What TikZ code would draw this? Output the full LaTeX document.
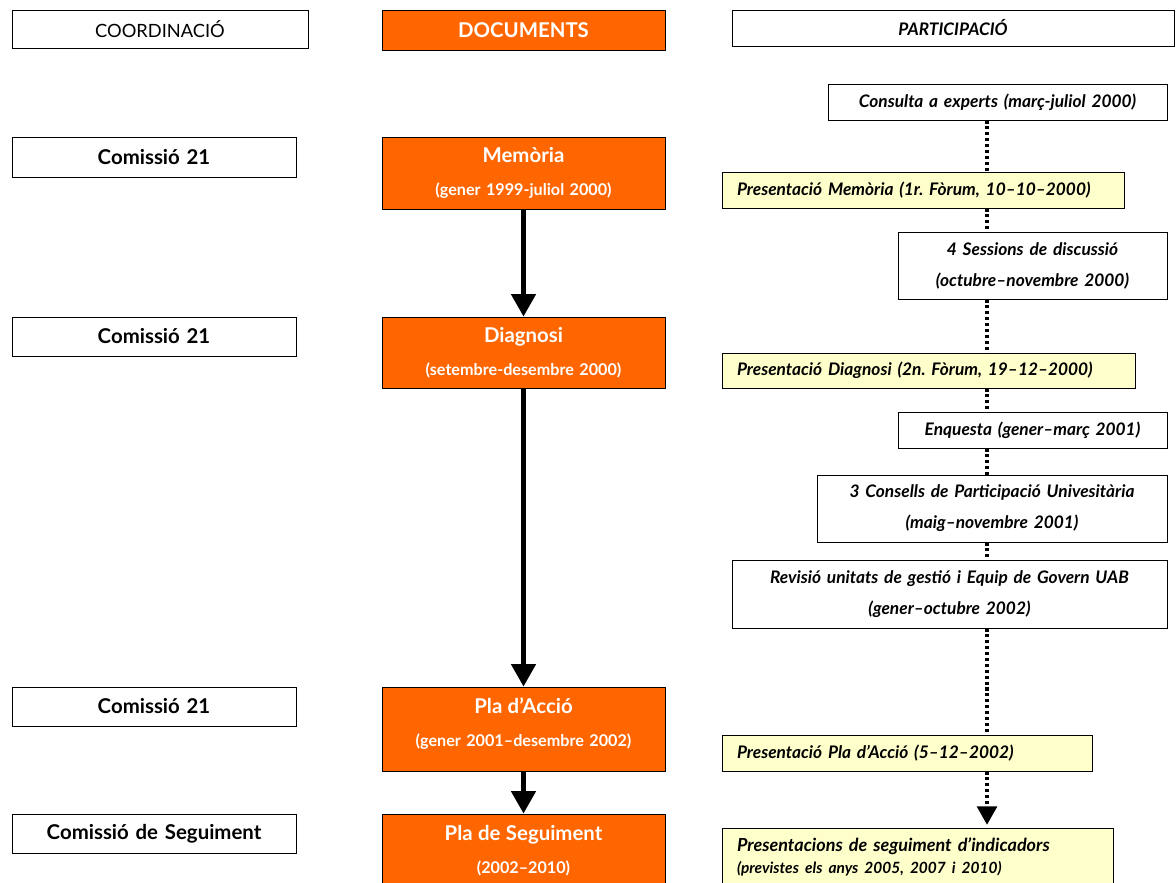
\documentclass[tikz,border=0pt]{standalone}
\usepackage{fontspec}
\setmainfont{Lato}
\frenchspacing
\usetikzlibrary{arrows.meta,shadows}
\definecolor{docorange}{HTML}{FF6600}
\definecolor{presyellow}{HTML}{FFFFCC}
\newcommand\doctitle[1]{{\fontsize{14.5}{23.5}\selectfont #1}}
% box from (x1,y1) to (x2,y2) in pixels
\newcommand\boxat[7]{\node[#6, minimum width={(#4-#2)*0.025cm}, minimum height={(#5-#3)*0.025cm},
  text width={(#4-#2)*0.025cm-2*\pgfkeysvalueof{/pgf/inner xsep}}] (#1) at ({(#2+#4)/2},{(#3+#5)/2}) {#7};}
\tikzset{
  anybox/.style={draw=black, line width=0.6pt, fill=white, inner xsep=0pt, inner ysep=0pt, align=center,
    drop shadow={shadow xshift=0.9pt, shadow yshift=-0.9pt, fill=black!70, opacity=1}},
  headbox/.style={anybox, font=\fontsize{13}{15}\selectfont},
  commbox/.style={anybox, font=\bfseries\fontsize{14.5}{17}\selectfont},
  docbox/.style={anybox, fill=docorange, text=white, font=\bfseries\fontsize{11.5}{23.5}\selectfont},
  partbox/.style={anybox, font=\bfseries\itshape\fontsize{12.3}{22}\selectfont},
  presbox/.style={partbox, fill=presyellow, inner xsep=15*0.025cm, align=left},
  docarrow/.style={line width=3.5pt, -{Triangle[width=17pt,length=16pt]}},
  partline/.style={line width=2.4pt, dash pattern=on 2.2pt off 2pt},
}
\begin{document}
\begin{tikzpicture}[x=0.025cm, y=-0.025cm]
\useasboundingbox (0,0) rectangle (1176,882);
\clip (0,0) rectangle (1176,882);
\coordinate (dotx) at (987,0);

% headings
\boxat{coord}{12}{10}{308}{48}{headbox}{COORDINACIÓ}
\boxat{docs}{382}{10}{665}{50}{docbox}{\doctitle{DOCUMENTS}}
\boxat{partic}{732}{10}{1174}{46}{partbox}{PARTICIPACIÓ}

% coordinacio
\boxat{com1}{12}{137}{296}{177}{commbox}{Comissió 21}
\boxat{com2}{12}{317}{296}{356}{commbox}{Comissió 21}
\boxat{com3}{12}{687}{296}{726}{commbox}{Comissió 21}
\boxat{comseg}{12}{814}{296}{853}{commbox}{Comissió de Seguiment}

% documents
\boxat{memoria}{382}{137}{665}{209}{docbox}{\doctitle{Memòria}\\(gener 1999-juliol 2000)}
\boxat{diagnosi}{382}{317}{665}{388}{docbox}{\doctitle{Diagnosi}\\(setembre-desembre 2000)}
\boxat{placcio}{382}{687}{665}{771}{docbox}{\doctitle{Pla d’Acció}\\(gener 2001–desembre 2002)\\[-14pt]\mbox{}}
\boxat{plaseg}{382}{814}{665}{887}{docbox}{\doctitle{Pla de Seguiment}\\(2002–2010)}

\draw[docarrow] (memoria) -- (diagnosi);
\draw[docarrow] (diagnosi) -- (placcio);
\draw[docarrow] (placcio) -- (plaseg);

% participacio
\boxat{consulta}{828}{84}{1167}{120}{partbox}{Consulta a experts (març-juliol 2000)}
\boxat{presmem}{722}{172}{1124}{208}{presbox}{Presentació Memòria (1r. Fòrum, 10–10–2000)}
\boxat{sessions}{898}{232}{1167}{299}{partbox}{4 Sessions de discussió\\(octubre–novembre 2000)}
\boxat{presdiag}{722}{353}{1135}{388}{presbox}{Presentació Diagnosi (2n. Fòrum, 19–12–2000)}
\boxat{enquesta}{898}{412}{1167}{448}{partbox}{Enquesta (gener–març 2001)}
\boxat{consells}{817}{475}{1167}{542}{partbox}{3 Consells de Participació Univesitària\\(maig–novembre 2001)}
\boxat{revisio}{732}{560}{1167}{628}{partbox}{Revisió unitats de gestió i Equip de Govern UAB\\(gener–octubre 2002)}
\boxat{presplan}{722}{735}{1092}{771}{presbox}{Presentació Pla d’Acció (5–12–2002)}
\boxat{presseg}{722}{828}{1113}{886}{presbox, font=\bfseries\itshape\fontsize{12.8}{15.5}\selectfont}{Presentacions de seguiment d’indicadors\\{\fontsize{11}{15.5}\selectfont (previstes els anys 2005, 2007 i 2010)}}

\draw[partline] (consulta.south -| dotx) -- (presmem.north -| dotx);
\draw[partline] (presmem.south -| dotx) -- (sessions.north -| dotx);
\draw[partline] (sessions.south -| dotx) -- (presdiag.north -| dotx);
\draw[partline] (presdiag.south -| dotx) -- (enquesta.north -| dotx);
\draw[partline] (enquesta.south -| dotx) -- (consells.north -| dotx);
\draw[partline] (consells.south -| dotx) -- (revisio.north -| dotx);
\draw[partline] (revisio.south -| dotx) -- (presplan.north -| dotx);
\draw[partline, -{Triangle[width=14pt,length=13pt]}] (presplan.south -| dotx) -- ([yshift=2pt]presseg.north -| dotx);
\end{tikzpicture}
\end{document}
